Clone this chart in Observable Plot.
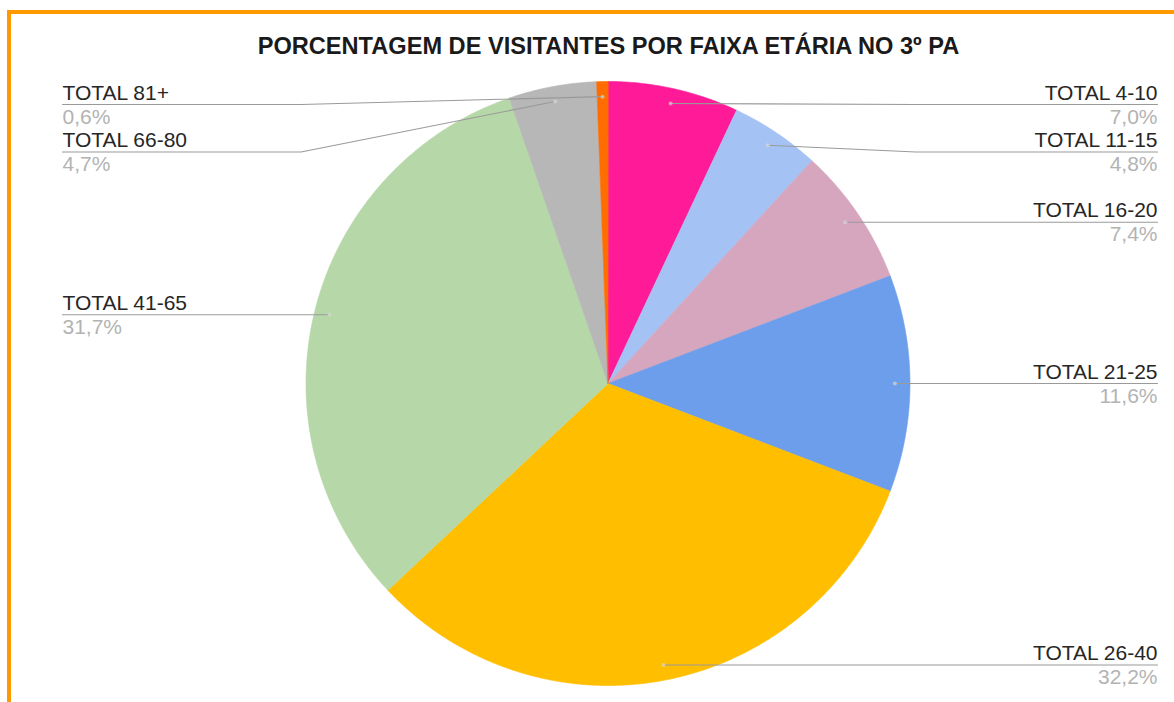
<!DOCTYPE html>
<html>
<head>
<meta charset="utf-8">
<script src="https://cdn.jsdelivr.net/npm/d3@7"></script>
<script src="https://cdn.jsdelivr.net/npm/@observablehq/plot@0.6"></script>
<style>
  html, body { margin: 0; padding: 0; background: #fff; }
  #wrap { position: relative; width: 1174px; height: 702px; overflow: hidden; background: #fff; }
  #title { position: absolute; left: 0; top: 35px; width: 1217px; text-align: center;
    font-family: "Liberation Sans", Arial, sans-serif; font-weight: bold; font-size: 23.6px; line-height: 23px; color: #1a1a1a; z-index: 2; }
  #chart { position: absolute; left: 0; top: 0; }
  .bt { position: absolute; left: 7px; top: 10px; width: 1167px; height: 3.5px; background: #ff9900; z-index: 3; }
  .bl { position: absolute; left: 7px; top: 10px; width: 4px; height: 692px; background: #ff9900; z-index: 3; }
</style>
</head>
<body>
<div id="wrap">
  <div class="bt"></div>
  <div class="bl"></div>
  <div id="title">PORCENTAGEM DE VISITANTES POR FAIXA ETÁRIA NO 3º PA</div>
  <div id="chart"></div>
</div>
<script>
// ---- data ----
const categories = ["TOTAL 4-10", "TOTAL 11-15", "TOTAL 16-20", "TOTAL 21-25", "TOTAL 26-40", "TOTAL 41-65", "TOTAL 66-80", "TOTAL 81+"];
const percents = [7.0, 4.8, 7.4, 11.6, 32.2, 31.7, 4.7, 0.6];

// ---- style ----
const palette = ["#ff1a98", "#a4c2f4", "#d5a6bd", "#6d9eeb", "#ffbe00", "#b6d7a8", "#b7b7b7", "#ff6d01"];

// ---- layout ----
const W = 1174, H = 702;
const cx = 607.5, cy = 383, r = 302;
const rightX = 1157, leftX = 62;
const minLabelY = 104, labelGap = 47.5;
const anchorK = 0.95;

const total = d3.sum(percents);
let cum = 0;
const slices = categories.map((c, i) => {
  const a0 = cum / total * 2 * Math.PI;
  cum += percents[i];
  const a1 = cum / total * 2 * Math.PI;
  const mid = (a0 + a1) / 2;
  return {
    cat: c, value: percents[i], a0, a1, mid,
    pct: percents[i].toFixed(1).replace(".", ",") + "%",
    ax: cx + anchorK * r * Math.sin(mid),
    ay: cy - anchorK * r * Math.cos(mid),
    side: Math.sin(mid) >= 0 ? "right" : "left"
  };
});

// polygon points for each slice
const polys = [];
for (const s of slices) {
  polys.push({cat: s.cat, x: cx, y: cy});
  const n = Math.max(2, Math.ceil((s.a1 - s.a0) / (Math.PI / 360)));
  for (let k = 0; k <= n; k++) {
    const t = s.a0 + (s.a1 - s.a0) * k / n;
    polys.push({cat: s.cat, x: cx + r * Math.sin(t), y: cy - r * Math.cos(t)});
  }
}

// label placement
for (const side of ["right", "left"]) {
  const group = slices.filter(s => s.side === side).sort((a, b) => a.ay - b.ay);
  let prev = -Infinity;
  for (const s of group) {
    s.ly = Math.max(s.ay, minLabelY, prev + labelGap);
    prev = s.ly;
    s.lx = side === "right" ? rightX : leftX;
    s.ex = side === "right" ? cx + r + 6 : cx - r - 5;
  }
}

const leaders = [];
for (const s of slices) {
  leaders.push({cat: s.cat, x: s.ax, y: s.ay});
  leaders.push({cat: s.cat, x: s.ex, y: s.ly});
  leaders.push({cat: s.cat, x: s.lx, y: s.ly});
}

const right = slices.filter(s => s.side === "right");
const left = slices.filter(s => s.side === "left");

const textBase = {fontSize: 21, lineAnchor: "bottom"};

const chart = Plot.plot({
  width: W, height: H,
  margin: 0,
  x: {type: "linear", domain: [0, W], range: [0, W], axis: null},
  y: {type: "linear", domain: [0, H], range: [0, H], axis: null},
  color: {domain: categories, range: palette},
  style: {fontFamily: "'Liberation Sans', Arial, sans-serif", background: "transparent", overflow: "visible"},
  marks: [
    Plot.line(polys, {x: "x", y: "y", z: "cat", fill: "cat", stroke: "cat", strokeWidth: 0.6, curve: "linear-closed"}),
    Plot.line(leaders, {x: "x", y: "y", z: "cat", stroke: "#9a9a9a", strokeWidth: 1.1}),
    Plot.dot(slices, {x: "ax", y: "ay", r: 2, fill: "#dddddd", fillOpacity: 0.6}),
    Plot.text(right, {...textBase, x: "lx", y: "ly", text: "cat", textAnchor: "end", dy: -5, fill: "#262626"}),
    Plot.text(right, {...textBase, x: "lx", y: "ly", text: "pct", textAnchor: "end", dy: 19, fill: "#b3b3b3"}),
    Plot.text(left, {...textBase, x: "lx", y: "ly", text: "cat", textAnchor: "start", dy: -5, fill: "#262626"}),
    Plot.text(left, {...textBase, x: "lx", y: "ly", text: "pct", textAnchor: "start", dy: 19, fill: "#b3b3b3"})
  ]
});
document.getElementById("chart").appendChild(chart);
</script>
</body>
</html>
